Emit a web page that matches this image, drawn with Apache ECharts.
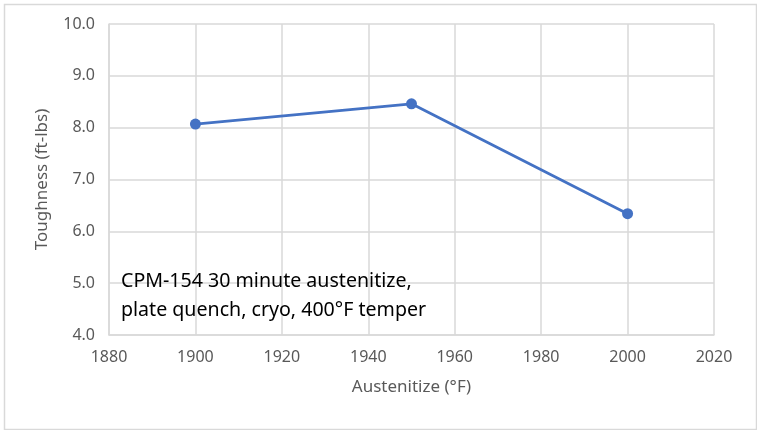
<!DOCTYPE html>
<html>
<head>
<meta charset="utf-8">
<script src="https://cdn.jsdelivr.net/npm/echarts@6/dist/echarts.min.js"></script>
<style>
html,body{margin:0;padding:0;background:#fff;}
#c{width:757px;height:430px;}
</style>
</head>
<body>
<div id="c"></div>
<script>
const temps = [1900, 1950, 2000];
const toughness = [8.07, 8.46, 6.34];
const xTicks = [1880, 1900, 1920, 1940, 1960, 1980, 2000, 2020];
const yTicks = [4.0, 5.0, 6.0, 7.0, 8.0, 9.0, 10.0];
const xName = 'Austenitize (°F)';
const yName = 'Toughness (ft-lbs)';
const noteLines = ['CPM-154 30 minute austenitize,', 'plate quench, cryo, 400°F temper'];

const font = 'Noto Sans';
const chart = echarts.init(document.getElementById('c'));
chart.setOption({
  animation: false,
  backgroundColor: '#fff',
  grid: {left: 109, top: 24, right: 43, bottom: 95},
  graphic: [
    {type: 'rect', left: 2, top: 2, shape: {width: 752, height: 425}, style: {fill: 'none', stroke: '#d9d9d9', lineWidth: 1.5}, silent: true},
    {type: 'text', left: 121, top: 267, style: {text: noteLines.join('\n'), font: '19.6px "Noto Sans"', fill: '#000', lineHeight: 29}, z: 10}
  ],
  xAxis: {
    type: 'value',
    min: xTicks[0], max: xTicks[xTicks.length - 1], interval: 20,
    name: xName, nameLocation: 'middle', nameGap: 44,
    nameTextStyle: {color: '#595959', fontSize: 17, fontFamily: font},
    axisLine: {show: true, lineStyle: {color: '#d9d9d9', width: 1.5}},
    axisTick: {show: false},
    splitLine: {show: true, lineStyle: {color: '#d9d9d9', width: 1.5}},
    axisLabel: {color: '#595959', fontSize: 16, fontFamily: font, margin: 14, formatter: v => String(v)}
  },
  yAxis: {
    type: 'value',
    min: yTicks[0], max: yTicks[yTicks.length - 1], interval: 1,
    name: yName, nameLocation: 'middle', nameGap: 58, nameRotate: 90,
    nameTextStyle: {color: '#595959', fontSize: 17, fontFamily: font},
    axisLine: {show: true, lineStyle: {color: '#d9d9d9', width: 1.5}},
    axisTick: {show: false},
    splitLine: {show: true, lineStyle: {color: '#d9d9d9', width: 1.5}},
    axisLabel: {color: '#595959', fontSize: 16, fontFamily: font, margin: 14, formatter: v => v.toFixed(1)}
  },
  series: [{
    type: 'line',
    data: temps.map((t, i) => [t, toughness[i]]),
    symbol: 'circle', symbolSize: 11,
    lineStyle: {color: '#4472C4', width: 2.8},
    itemStyle: {color: '#4472C4'}
  }]
});
</script>
</body>
</html>
